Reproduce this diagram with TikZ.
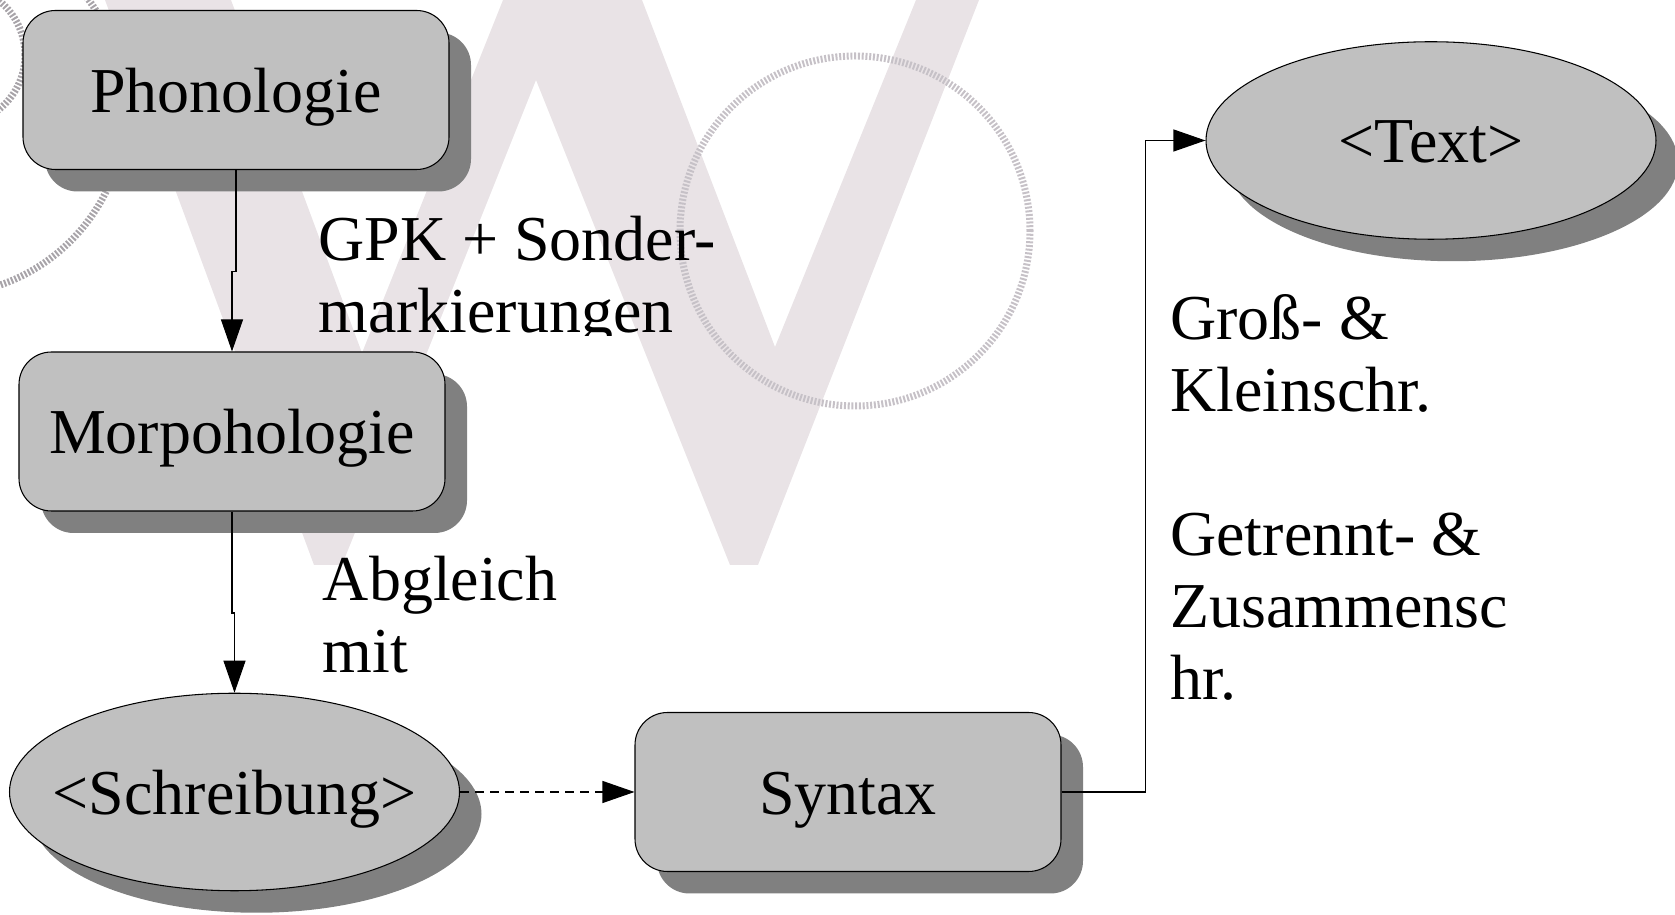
\documentclass[tikz,border=0pt]{standalone}
\usepackage{fontspec}
\setmainfont{Liberation Serif}
\usepackage{tikz}
\usetikzlibrary{arrows.meta,shadows,shapes.geometric,calc}
\definecolor{BoxFill}{HTML}{C0C0C0}
\definecolor{BoxShade}{HTML}{808080}
\definecolor{MarkPink}{HTML}{E9E3E6}
\definecolor{MarkGrey}{HTML}{C6C1C7}
\newcommand{\inoval}[1]{\makebox[0pt]{#1}}

\begin{document}
\begin{tikzpicture}[
    every node/.style={font=\fontsize{36.4}{41}\selectfont},
    boxshadow/.style={drop shadow={shadow xshift=0.44cm, shadow yshift=-0.44cm,
                      fill=BoxShade, opacity=1}},
    box/.style={boxshadow, draw, fill=BoxFill, line width=0.6pt,
                rounded corners=0.65cm, minimum width=8.52cm, minimum height=3.18cm,
                text height=32.8pt, text depth=7.6pt},
    oval/.style={boxshadow, ellipse, draw, fill=BoxFill, line width=0.6pt,
                 inner sep=0pt, minimum width=9cm, minimum height=3.95cm,
                 text height=32.8pt, text depth=7.6pt},
    lbl/.style={anchor=base west, inner sep=0pt, align=left},
    arr/.style={-{Triangle[length=0.64cm, width=0.44cm]}, line width=0.6pt},
    ring/.style={draw=MarkGrey, line width=0.14cm, dash pattern=on 0.04cm off 0.035cm},
]
\useasboundingbox (0,0) rectangle (33.5,18.3);

%% Watermark
\begin{scope}
  \clip (0,0) rectangle (33.5,18.3);
  \fill[MarkPink] (2.10,18.30) -- (6.28,7.00) -- (6.84,7.00) -- (10.72,16.70)
     -- (14.60,7.00) -- (15.16,7.00) -- (19.58,18.30) -- (18.32,18.30)
     -- (15.50,11.36) -- (12.84,18.30) -- (10.06,18.30) -- (7.24,11.24)
     -- (4.62,18.30) -- cycle;
  \draw[ring] (17.10,13.68) circle (3.5);
  \draw[ring, draw=MarkGrey!85!black] (-1.2,16.1) circle (3.7);
  \draw[ring, draw=MarkGrey!85!black] (-0.9,17.2) circle (1.4);
\end{scope}

%% Nodes
\node[box]  (phon)    at (4.72,16.50) {Phonologie};
\node[box]  (morph)   at (4.64,9.67)  {Morpohologie};
\node[oval] (schreib) at (4.69,2.46)  {\inoval{<Schreibung>}};
\node[box]  (syntax)  at (16.96,2.46) {Syntax};
\node[oval] (txt)     at (28.62,15.49) {\inoval{<Text>}};

%% Labels (anchored at the last line)
\begin{scope}
  \clip (6,11.58) rectangle (16,14.2);
  \node[lbl] (gpk) at (6.36,11.64) {GPK + Sonder-\\markierungen};
\end{scope}
\node[lbl] (abgl)  at (6.45,4.84) {Abgleich\\mit};
\node[lbl] (regel) at (23.4,4.30) {Groß- \&\\Kleinschr.\\[1.44cm]Getrennt- \&\\Zusammensc\\hr.};

%% Arrows
\draw[arr] (phon.south) |- ($(phon.south)!.56!(morph.north)$) -| (morph.north);
\draw[arr] (morph.south) |- ($(morph.south)!.56!(schreib.north)$) -| (schreib.north);
\draw[arr, dash pattern=on 0.18cm off 0.12cm] (schreib.east) -- (syntax.west);
\draw[arr] (syntax.east) -- ++(1.68,0) |- (txt.west);

\end{tikzpicture}
\end{document}
